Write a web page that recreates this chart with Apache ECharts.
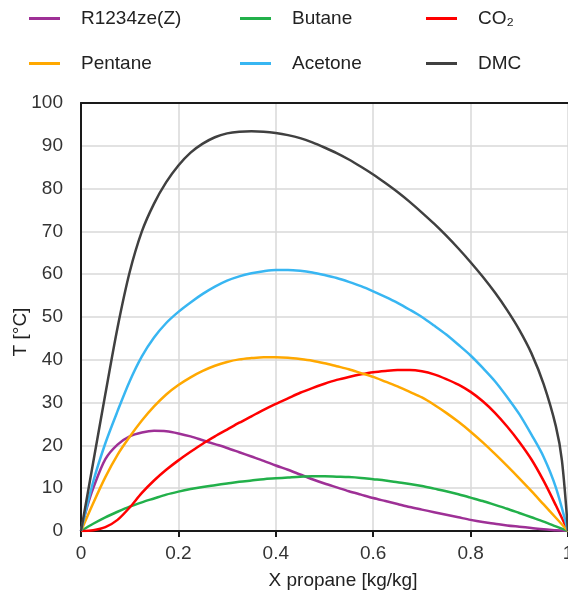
<!DOCTYPE html>
<html>
<head>
<meta charset="utf-8">
<script src="https://cdn.jsdelivr.net/npm/echarts@6/dist/echarts.min.js"></script>
<style>
html,body{margin:0;padding:0;background:#fff;}
#c{width:568px;height:596px;}
</style>
</head>
<body>
<div id="c"></div>
<script>
// Series names
const seriesNames = ['R1234ze(Z)', 'Butane', 'CO\u2082', 'Pentane', 'Acetone', 'DMC'];

// [X propane, T] pairs
const r1234zeZ = [[0,0],[0.0125,5.6],[0.025,10],[0.05,16.8],[0.075,20.2],[0.1,22.1],[0.125,23.0],[0.15,23.4],[0.175,23.3],[0.2,22.8],[0.225,22.1],[0.25,21.2],[0.275,20.3],[0.3,19.4],[0.325,18.4],[0.35,17.4],[0.375,16.4],[0.4,15.3],[0.425,14.3],[0.45,13.2],[0.475,12.1],[0.5,11.1],[0.525,10.2],[0.55,9.3],[0.575,8.5],[0.6,7.7],[0.625,7.0],[0.65,6.3],[0.675,5.6],[0.7,5.0],[0.725,4.4],[0.75,3.8],[0.775,3.2],[0.8,2.6],[0.825,2.1],[0.85,1.7],[0.875,1.3],[0.9,1.0],[0.925,0.7],[0.95,0.4],[0.975,0.2],[1,0]];
const butane = [[0,0],[0.025,1.7],[0.05,3.2],[0.075,4.5],[0.1,5.7],[0.125,6.7],[0.15,7.6],[0.175,8.5],[0.2,9.2],[0.225,9.8],[0.25,10.3],[0.275,10.7],[0.3,11.1],[0.325,11.5],[0.35,11.8],[0.375,12.1],[0.4,12.3],[0.425,12.5],[0.45,12.7],[0.475,12.8],[0.5,12.8],[0.525,12.7],[0.55,12.6],[0.575,12.4],[0.6,12.1],[0.625,11.8],[0.65,11.4],[0.675,11.0],[0.7,10.5],[0.725,9.9],[0.75,9.3],[0.775,8.6],[0.8,7.8],[0.825,7.0],[0.85,6.1],[0.875,5.2],[0.9,4.2],[0.925,3.2],[0.95,2.2],[0.975,1.1],[1,0]];
const co2 = [[0,0],[0.025,0.2],[0.05,0.9],[0.075,2.6],[0.1,5.5],[0.125,8.9],[0.15,11.8],[0.175,14.3],[0.2,16.5],[0.225,18.5],[0.25,20.4],[0.275,22.1],[0.3,23.7],[0.325,25.3],[0.35,26.8],[0.375,28.3],[0.4,29.7],[0.425,31.0],[0.45,32.3],[0.475,33.4],[0.5,34.4],[0.525,35.3],[0.55,36.0],[0.575,36.6],[0.6,37.1],[0.625,37.4],[0.65,37.6],[0.675,37.6],[0.7,37.3],[0.725,36.6],[0.75,35.5],[0.775,34.2],[0.8,32.5],[0.825,30.3],[0.85,27.6],[0.875,24.4],[0.9,20.8],[0.925,16.7],[0.95,11.7],[0.975,6.0],[1,0]];
const pentane = [[0,0],[0.025,6.5],[0.05,12.6],[0.075,17.8],[0.1,22.0],[0.125,25.8],[0.15,29.1],[0.175,31.9],[0.2,34.1],[0.225,35.9],[0.25,37.4],[0.275,38.6],[0.3,39.5],[0.325,40.1],[0.35,40.4],[0.375,40.6],[0.4,40.6],[0.425,40.5],[0.45,40.2],[0.475,39.8],[0.5,39.2],[0.525,38.5],[0.55,37.8],[0.575,36.9],[0.6,36.0],[0.625,34.9],[0.65,33.8],[0.675,32.5],[0.7,31.2],[0.725,29.5],[0.75,27.6],[0.775,25.5],[0.8,23.2],[0.825,20.7],[0.85,18.0],[0.875,15.2],[0.9,12.3],[0.925,9.3],[0.95,6.2],[0.975,3.1],[1,0]];
const acetone = [[0,0],[0.025,11.5],[0.05,20.5],[0.075,28.0],[0.1,35.0],[0.125,40.8],[0.15,45.2],[0.175,48.6],[0.2,51.2],[0.225,53.4],[0.25,55.4],[0.275,57.1],[0.3,58.5],[0.325,59.5],[0.35,60.2],[0.375,60.7],[0.4,61.0],[0.425,61.0],[0.45,60.8],[0.475,60.4],[0.5,59.8],[0.525,59.1],[0.55,58.2],[0.575,57.2],[0.6,56.0],[0.625,54.7],[0.65,53.3],[0.675,51.7],[0.7,50.0],[0.725,48.0],[0.75,45.9],[0.775,43.5],[0.8,41.0],[0.825,38.1],[0.85,35.0],[0.875,31.3],[0.9,27.3],[0.925,22.5],[0.95,17.3],[0.975,10.2],[1,0]];
const dmc = [[0,0],[0.025,16],[0.05,32],[0.075,47.5],[0.1,60.5],[0.125,70],[0.15,76.5],[0.175,81.5],[0.2,85.4],[0.225,88.4],[0.25,90.5],[0.275,92.0],[0.3,92.9],[0.325,93.3],[0.35,93.4],[0.375,93.3],[0.4,93.0],[0.425,92.5],[0.45,91.8],[0.475,90.8],[0.5,89.6],[0.525,88.3],[0.55,86.8],[0.575,85.1],[0.6,83.3],[0.625,81.3],[0.65,79.2],[0.675,76.9],[0.7,74.4],[0.725,71.8],[0.75,69.0],[0.775,66.0],[0.8,62.8],[0.825,59.4],[0.85,55.7],[0.875,51.6],[0.9,47.0],[0.925,41.5],[0.95,34.3],[0.975,24.5],[0.9875,16.5],[1,0]];

const seriesData = [r1234zeZ, butane, co2, pentane, acetone, dmc];
const seriesColors = ['#9E3096', '#22B04A', '#FF0000', '#FFA800', '#38B6F2', '#404040'];

const xTicks = [0, 0.2, 0.4, 0.6, 0.8, 1];
const yTicks = [0, 10, 20, 30, 40, 50, 60, 70, 80, 90, 100];

const FONT = '"Liberation Sans", Arial, sans-serif';
const legendPos = [
  {left: 29, top: 9}, {left: 240, top: 9}, {left: 426, top: 9},
  {left: 29, top: 54}, {left: 240, top: 54}, {left: 426, top: 54}
];

const chart = echarts.init(document.getElementById('c'), null, {renderer: 'canvas'});
chart.setOption({
  animation: false,
  backgroundColor: '#fff',
  legend: seriesNames.map((n, i) => ({
    data: [n],
    left: legendPos[i].left,
    top: legendPos[i].top,
    padding: 0,
    icon: 'rect',
    itemWidth: 31,
    itemHeight: 3,
    selectedMode: false,
    textStyle: {fontFamily: FONT, fontSize: 19, color: '#222', padding: [0, 0, 0, 16]}
  })),
  grid: {left: 81, top: 103, right: 0, bottom: 65, containLabel: false, outerBoundsMode: 'none'},
  xAxis: [{
    type: 'value', min: 0, max: 1, interval: 0.2,
    axisLine: {show: true, onZero: false, lineStyle: {color: '#1a1a1a', width: 2}},
    axisTick: {show: true, length: 6, lineStyle: {color: '#1a1a1a', width: 2}},
    axisLabel: {fontFamily: FONT, fontSize: 19, color: '#333', margin: 13, hideOverlap: false,
      formatter: v => String(xTicks.find(t => Math.abs(t - v) < 1e-9) ?? v)},
    splitLine: {show: true, lineStyle: {color: '#d9d9d9', width: 1.5}}
  }, {
    type: 'value', min: 0, max: 1, position: 'top',
    axisLine: {show: true, onZero: false, lineStyle: {color: '#1a1a1a', width: 2}},
    axisTick: {show: false}, axisLabel: {show: false}, splitLine: {show: false}
  }],
  yAxis: {
    type: 'value', min: 0, max: 100, interval: 10,
    axisLine: {show: true, onZero: false, lineStyle: {color: '#1a1a1a', width: 2}},
    axisTick: {show: false},
    axisLabel: {fontFamily: FONT, fontSize: 19, color: '#333', margin: 18,
      formatter: v => String(yTicks.find(t => t === v) ?? v)},
    splitLine: {show: true, lineStyle: {color: '#d9d9d9', width: 1.5}}
  },
  graphic: [
    {type: 'text', x: 343, y: 581, style: {text: 'X propane [kg/kg]', font: '19px ' + FONT, fill: '#222', align: 'center', verticalAlign: 'middle', textAlign: 'center', textVerticalAlign: 'middle'}},
    {type: 'text', x: 21, y: 332, rotation: Math.PI / 2, style: {text: 'T [°C]', font: '19px ' + FONT, fill: '#222', align: 'center', verticalAlign: 'middle', textAlign: 'center', textVerticalAlign: 'middle'}}
  ],
  series: seriesNames.map((n, i) => ({
    name: n,
    type: 'line',
    data: seriesData[i],
    smooth: 0.3,
    showSymbol: false,
    symbol: 'none',
    clip: true,
    lineStyle: {color: seriesColors[i], width: 2.5},
    itemStyle: {color: seriesColors[i]},
    z: 3
  }))
});
</script>
</body>
</html>
